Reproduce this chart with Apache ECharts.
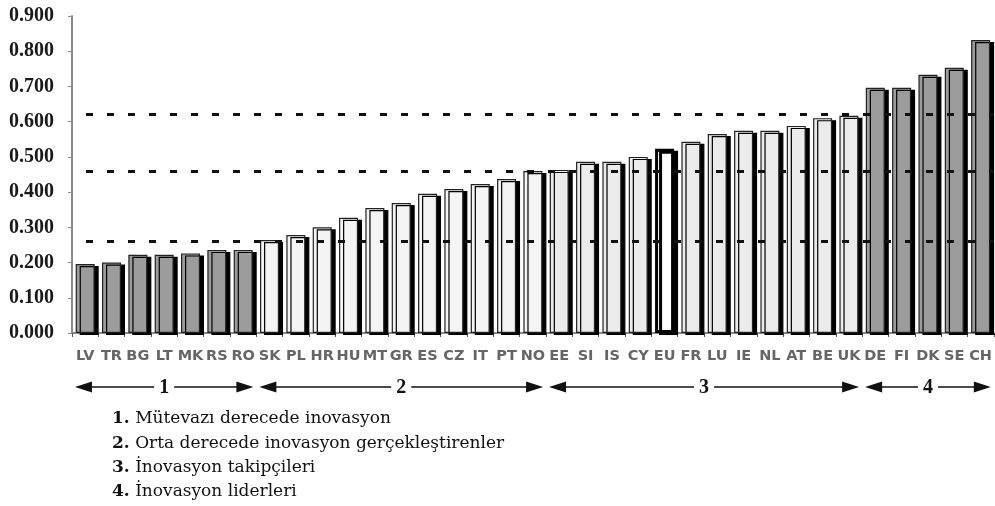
<!DOCTYPE html>
<html>
<head>
<meta charset="utf-8">
<script src="https://cdn.jsdelivr.net/npm/echarts@6/dist/echarts.min.js"></script>
<style>
  html, body { margin: 0; padding: 0; background: #fff; }
  #main { width: 995px; height: 506px; }
</style>
</head>
<body>
<div id="main"></div>
<script>
'use strict';

var countries = ['LV', 'TR', 'BG', 'LT', 'MK', 'RS', 'RO', 'SK', 'PL', 'HR', 'HU', 'MT', 'GR', 'ES', 'CZ',
    'IT', 'PT', 'NO', 'EE', 'SI', 'IS', 'CY', 'EU', 'FR', 'LU', 'IE', 'NL', 'AT', 'BE', 'UK',
    'DE', 'FI', 'DK', 'SE', 'CH'];
var scores = [0.196, 0.200, 0.222, 0.222, 0.226, 0.236, 0.236, 0.264, 0.278, 0.300, 0.327, 0.355, 0.369, 0.395, 0.409,
    0.423, 0.437, 0.460, 0.463, 0.486, 0.486, 0.500, 0.523, 0.543, 0.565, 0.574, 0.574, 0.588, 0.610, 0.617,
    0.696, 0.696, 0.733, 0.753, 0.832];
// group of each country (1..4)
var groups = [1, 1, 1, 1, 1, 1, 1, 2, 2, 2, 2, 2, 2, 2, 2,
    2, 2, 2, 3, 3, 3, 3, 3, 3, 3, 3, 3, 3, 3, 3,
    4, 4, 4, 4, 4];
var thresholds = [0.258, 0.463, 0.619];
var groupNames = ['1', '2', '3', '4'];
var legendLines = [
    'Mütevazı derecede inovasyon',
    'Orta derecede inovasyon gerçekleştirenler',
    'İnovasyon takipçileri',
    'İnovasyon liderleri'
];

var groupColors = { 1: '#9c9c9c', 2: '#f4f4f4', 3: '#ebebeb', 4: '#9c9c9c' };

var chart = echarts.init(document.getElementById('main'));

var barData = scores.map(function (v, i) {
    var isEU = countries[i] === 'EU';
    return {
        value: v,
        itemStyle: {
            color: isEU ? '#ffffff' : groupColors[groups[i]],
            borderColor: isEU ? '#000' : '#222',
            borderWidth: isEU ? 3 : 1.2
        }
    };
});

var option = {
    animation: false,
    grid: { left: 72, right: 1, top: 16, bottom: 173 },
    xAxis: {
        type: 'category',
        data: countries,
        axisLine: { lineStyle: { color: '#8a8a8a', width: 2 } },
        axisTick: { show: true, length: 4, lineStyle: { color: '#555' } },
        axisLabel: {
            interval: 0,
            margin: 16,
            color: '#666',
            fontFamily: 'DejaVu Sans',
            fontWeight: 'bold',
            fontSize: 14.5
        }
    },
    yAxis: {
        type: 'value',
        min: 0,
        max: 0.9,
        interval: 0.1,
        splitLine: { show: false },
        axisLine: { show: true, lineStyle: { color: '#8a8a8a', width: 2 } },
        axisTick: { show: true, length: 4, lineStyle: { color: '#8a8a8a' } },
        axisLabel: {
            margin: 18,
            color: '#1a1a1a',
            fontFamily: 'Liberation Serif',
            fontWeight: 'bold',
            fontSize: 20,
            formatter: function (v) { return v.toFixed(3); }
        }
    },
    series: [{
        type: 'bar',
        data: barData,
        barWidth: 19,
        itemStyle: {
            shadowColor: '#000',
            shadowOffsetX: 4,
            shadowOffsetY: 2,
            shadowBlur: 0
        },
        markLine: {
            silent: true,
            symbol: 'none',
            label: { show: false },
            lineStyle: { color: '#111', type: [7, 14], dashOffset: 7, width: 3 },
            data: thresholds.map(function (t) { return { yAxis: t }; })
        }
    }]
};
chart.setOption(option);

// group arrows and legend below the axis
var half = (chart.convertToPixel({ xAxisIndex: 0 }, countries[1]) -
    chart.convertToPixel({ xAxisIndex: 0 }, countries[0])) / 2;
var arrowY = 387;
var elements = [];
groupNames.forEach(function (g, gi) {
    var idx = [];
    groups.forEach(function (gr, i) { if (gr === gi + 1) idx.push(i); });
    var x0 = chart.convertToPixel({ xAxisIndex: 0 }, countries[idx[0]]) - half + 3;
    var x1 = chart.convertToPixel({ xAxisIndex: 0 }, countries[idx[idx.length - 1]]) + half - 3;
    var mid = (x0 + x1) / 2;
    var gap = 10;
    elements.push({ type: 'line', shape: { x1: x0 + 10, y1: arrowY, x2: mid - gap, y2: arrowY }, style: { stroke: '#111', lineWidth: 1.3 } });
    elements.push({ type: 'line', shape: { x1: mid + gap, y1: arrowY, x2: x1 - 10, y2: arrowY }, style: { stroke: '#111', lineWidth: 1.3 } });
    elements.push({ type: 'polygon', shape: { points: [[x0, arrowY], [x0 + 17, arrowY - 5.5], [x0 + 17, arrowY + 5.5]] }, style: { fill: '#111' } });
    elements.push({ type: 'polygon', shape: { points: [[x1, arrowY], [x1 - 17, arrowY - 5.5], [x1 - 17, arrowY + 5.5]] }, style: { fill: '#111' } });
    elements.push({
        type: 'text', x: mid, y: arrowY + 1,
        style: { text: g, fill: '#111', font: 'bold 20px "Liberation Serif"', align: 'center', verticalAlign: 'middle' }
    });
});
legendLines.forEach(function (txt, i) {
    elements.push({
        type: 'text', x: 112, y: 419 + i * 24.2,
        style: {
            text: '{b|' + (i + 1) + '.} ' + txt,
            verticalAlign: 'middle',
            rich: {
                b: { fontFamily: 'DejaVu Serif', fontWeight: 'bold', fontSize: 17, fill: '#111' }
            },
            fontFamily: 'DejaVu Serif',
            fontSize: 17,
            fill: '#111'
        }
    });
});
chart.setOption({ graphic: elements });
</script>
</body>
</html>
